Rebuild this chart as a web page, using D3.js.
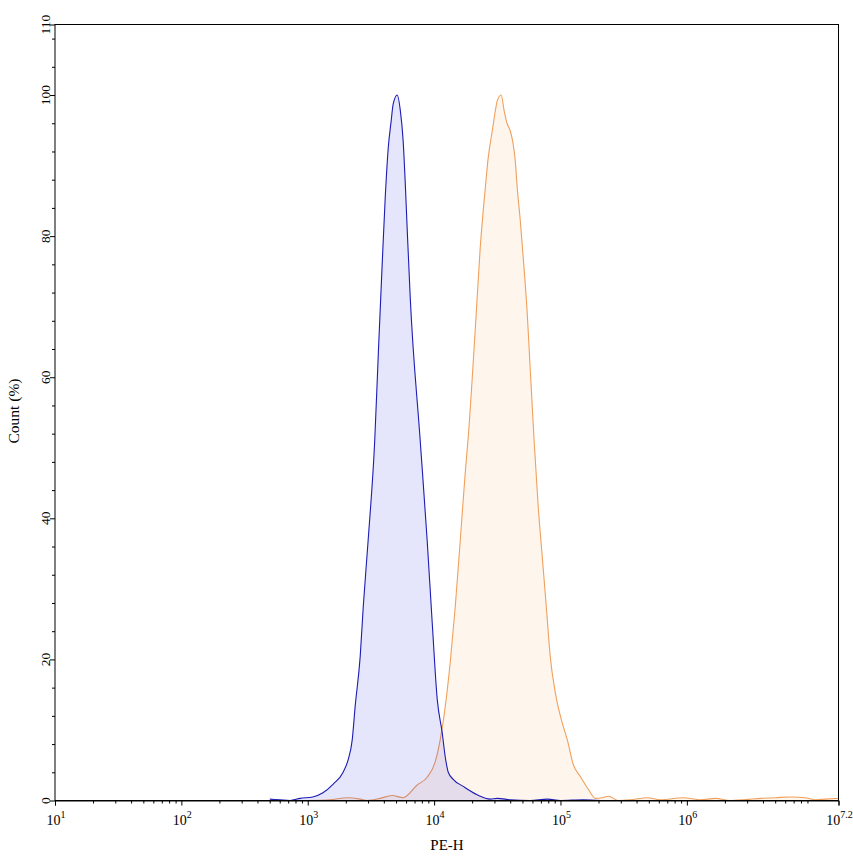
<!DOCTYPE html>
<html><head><meta charset="utf-8">
<script src="https://cdn.jsdelivr.net/npm/d3@7"></script>
<style>
html,body{margin:0;padding:0;background:#fff;}
svg{display:block;font-family:"Liberation Serif","DejaVu Serif",serif;}
</style>
</head><body>
<svg id="chart" width="853" height="856"></svg>
<script>
// X values are log10(PE-H), Y values are Count (%)
const blueLogX = [2.70,2.78,2.86,2.94,3.04,3.12,3.20,3.28,3.32,3.352,3.375,3.415,3.439,3.478,3.530,3.560,3.589,3.613,3.637,3.660,3.676,3.708,3.732,3.755,3.771,3.787,3.811,3.890,3.945,3.985,4.025,4.064,4.088,4.112,4.151,4.230,4.341,4.444,4.500,4.603,4.76,4.896,5.00,5.181,5.32];
const blueY    = [0.2,0.1,0,0.3,0.5,1.1,2.3,4.0,5.8,8.6,13.3,20.4,27.4,36.9,51,64,76,85.4,92.5,96.3,98.7,100,97.9,93.5,87.8,81,71.3,51,36.9,25.2,14.3,9.6,6.2,4.0,3.0,2.0,0.8,0.2,0.3,0.1,0,0.2,0,0.1,0];

const orangeLogX = [2.995,3.177,3.312,3.415,3.470,3.573,3.668,3.755,3.866,3.945,4.009,4.048,4.088,4.127,4.167,4.207,4.246,4.270,4.325,4.365,4.405,4.428,4.460,4.484,4.500,4.531,4.555,4.579,4.603,4.626,4.642,4.658,4.682,4.705,4.737,4.761,4.793,4.824,4.856,4.888,4.919,4.959,5.014,5.054,5.101,5.157,5.220,5.276,5.331,5.378,5.458,5.553,5.687,5.790,5.972,6.107,6.226,6.345,6.582,6.701,6.820,6.938,7.017,7.097,7.2];
const orangeY    = [0,0.1,0.4,0.2,0,0.3,0.7,0.4,2.2,3.3,5.5,8.6,13.3,19.5,27.4,36.9,46.4,51.5,66.6,78.4,86.8,91.1,94.9,97.7,99.2,100,97.7,95.9,94.9,93,90.7,86.8,82.2,77,69,61,50.5,41.6,34.5,27.4,20.4,15.3,11,8.6,5.1,3.4,1.6,0.3,0.4,0.6,0,0.1,0.4,0.1,0.4,0.1,0.3,0,0.3,0.4,0.5,0.4,0.1,0.2,0.3];

const xDecades = [1,2,3,4,5,6];
const xEndExp = 7.2;
const yMajor = [0,20,40,60,80,100,110];
const yLabels = ["0","20","40","60","80","100","110"];
const xTitle = "PE-H";
const yTitle = "Count (%)";

const L = 55, R = 838.5, T = 24.5, B = 800.5;
const svg = d3.select("#chart");

const x = d3.scaleLog().domain([10, Math.pow(10, xEndExp)]).range([L, R]);
const y = d3.scaleLinear().domain([0, 110]).range([B, T]);

function series(lx, ly){ return lx.map((v,i)=>({x:Math.pow(10,v), y:ly[i]})); }
const blue = series(blueLogX, blueY);
const orange = series(orangeLogX, orangeY);

const area = d3.area().x(d=>x(d.x)).y0(y(0)).y1(d=>y(d.y)).curve(d3.curveMonotoneX);
const line = d3.line().x(d=>x(d.x)).y(d=>y(d.y)).curve(d3.curveMonotoneX);

const g = svg.append("g");
g.append("path").datum(orange).attr("d", area).attr("fill","rgba(250,180,110,0.13)");
g.append("path").datum(orange).attr("d", line).attr("fill","none").attr("stroke","#f0a05c").attr("stroke-width",1.1);
g.append("path").datum(blue).attr("d", area).attr("fill","rgba(0,0,220,0.10)");
g.append("path").datum(blue).attr("d", line).attr("fill","none").attr("stroke","#1c1cb4").attr("stroke-width",1.1);

// frame
svg.append("rect").attr("x",L).attr("y",T).attr("width",R-L).attr("height",B-T)
  .attr("fill","none").attr("stroke","#000").attr("stroke-width",1);

// x axis ticks
const majorX = xDecades.map(d=>Math.pow(10,d)).concat([Math.pow(10,xEndExp)]);
const minorX = [];
xDecades.forEach(d=>{ for(let k=2;k<=9;k++){ const v=k*Math.pow(10,d); if (v < Math.pow(10,xEndExp)) minorX.push(v);} });
const xAxisMajor = d3.axisBottom(x).tickValues(majorX).tickSize(5).tickFormat("");
const xAxisMinor = d3.axisBottom(x).tickValues(minorX).tickSize(3).tickFormat("");
svg.append("g").attr("transform",`translate(0,${B})`).call(xAxisMinor).call(s=>s.select(".domain").remove());
svg.append("g").attr("transform",`translate(0,${B})`).call(xAxisMajor).call(s=>s.select(".domain").attr("stroke","#000"));

const xl = svg.append("g").attr("font-size",14).attr("fill","#000");
xDecades.map(d=>({v:Math.pow(10,d), e:String(d)})).concat([{v:Math.pow(10,xEndExp), e:String(xEndExp)}]).forEach(t=>{
  const tx = xl.append("text").attr("x", x(t.v)+1).attr("y", 825).attr("text-anchor","middle");
  tx.append("tspan").text("10");
  tx.append("tspan").attr("font-size",10).attr("dy",-7).text(t.e);
});

// y axis ticks
const minorY = d3.range(0,111,4).filter(v=>yMajor.indexOf(v)<0);
svg.append("g").attr("transform",`translate(${L},0)`).call(d3.axisLeft(y).tickValues(minorY).tickSize(3).tickFormat("")).call(s=>s.select(".domain").remove());
svg.append("g").attr("transform",`translate(${L},0)`).call(d3.axisLeft(y).tickValues(yMajor).tickSize(5).tickFormat("")).call(s=>s.select(".domain").remove());

const yl = svg.append("g").attr("font-size",13.5).attr("fill","#000");
yMajor.forEach((v,i)=>{
  yl.append("text").attr("transform",`translate(50,${y(v)}) rotate(-90)`)
    .attr("text-anchor","middle").text(yLabels[i]);
});

svg.append("text").attr("x",447).attr("y",850).attr("text-anchor","middle")
  .attr("font-size",15).text(xTitle);
svg.append("text").attr("transform",`translate(19,${411}) rotate(-90)`).attr("text-anchor","middle")
  .attr("font-size",15.5).text(yTitle);
</script>
</body></html>
